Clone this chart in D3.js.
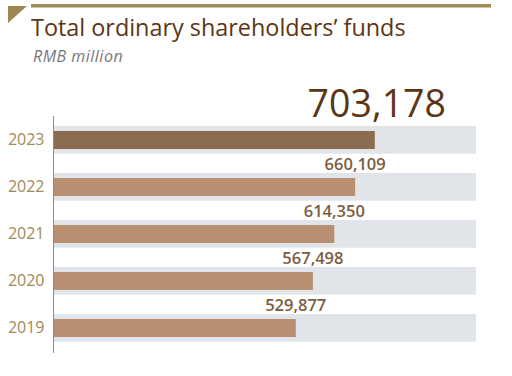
<!DOCTYPE html>
<html>
<head>
<meta charset="utf-8">
<script src="https://cdn.jsdelivr.net/npm/d3@7"></script>
<style>
  html, body { margin: 0; padding: 0; background: #fff; }
  svg { display: block; font-family: "Open Sans", "Noto Sans", sans-serif; }
</style>
</head>
<body>
<script>
const years = ['2023', '2022', '2021', '2020', '2019'];
const values = [703178, 660109, 614350, 567498, 529877];
const valueLabels = ['703,178', '660,109', '614,350', '567,498', '529,877'];
const title = 'Total ordinary shareholders\u2019 funds';
const subtitle = 'RMB million';

const width = 512,
      height = 376;

const dataset = years.map((year, i) => ({ year: year, value: values[i], label: valueLabels[i] }));

const svg = d3.select('body')
              .append('svg')
              .attr('width', width)
              .attr('height', height);

// header: corner triangle, rule, title, unit
svg.append('path')
   .attr('d', 'M8,6 L27,6 L8,23 Z')
   .attr('fill', '#9d8751');

svg.append('rect')
   .attr('x', 31)
   .attr('y', 4)
   .attr('width', 460)
   .attr('height', 3.5)
   .attr('fill', '#a08a55');

svg.append('text')
   .attr('x', 31)
   .attr('y', 35.5)
   .attr('font-size', 23.4)
   .attr('fill', '#5c3514')
   .text(title);

svg.append('text')
   .attr('x', 33)
   .attr('y', 62)
   .attr('font-size', 16)
   .attr('font-style', 'italic')
   .attr('letter-spacing', 0.5)
   .attr('fill', '#77787b')
   .text(subtitle);

const xScale = d3.scaleLinear()
                 .domain([0, 925000])
                 .range([54, 476]);

const yScale = d3.scaleBand()
                 .domain(years)
                 .range([126, 341])
                 .paddingInner(20 / 47)
                 .paddingOuter(0);

// grey tracks
svg.selectAll('rect.track')
   .data(dataset)
   .enter()
   .append('rect')
   .attr('class', 'track')
   .attr('x', xScale(0))
   .attr('y', (d) => yScale(d.year))
   .attr('width', xScale.range()[1] - xScale(0))
   .attr('height', yScale.bandwidth() + 0.7)
   .attr('fill', '#e1e5e9');

// bars
svg.selectAll('rect.bar')
   .data(dataset)
   .enter()
   .append('rect')
   .attr('class', 'bar')
   .attr('x', xScale(0))
   .attr('y', (d) => yScale(d.year) + 5)
   .attr('width', (d) => xScale(d.value) - xScale(0))
   .attr('height', 18)
   .attr('fill', (d, i) => i === 0 ? '#8b6c50' : '#b98f71');

// value labels, centred on the bar end
svg.selectAll('text.value')
   .data(dataset)
   .enter()
   .append('text')
   .attr('class', 'value')
   .attr('x', (d) => xScale(d.value) + (d.year === '2023' ? 2 : 0))
   .attr('y', (d) => yScale(d.year) - (d.year === '2023' ? 9 : 3))
   .attr('text-anchor', 'middle')
   .attr('font-size', (d) => d.year === '2023' ? 37.5 : 16.5)
   .attr('font-weight', (d) => d.year === '2023' ? 400 : 600)
   .attr('fill', (d) => d.year === '2023' ? '#5c3514' : '#7d5c3e')
   .text((d) => d.label);

// year axis
const yAxis = d3.axisLeft(yScale).tickSize(0).tickPadding(9);

const axisG = svg.append('g')
                 .attr('transform', 'translate(53.5, 0)')
                 .call(yAxis);

axisG.select('.domain').remove();
axisG.attr('font-size', 16)
     .attr('font-family', '"Open Sans", "Noto Sans", sans-serif');
axisG.selectAll('text')
     .attr('font-size', 16)
     .attr('fill', '#a08a55');

svg.append('line')
   .attr('x1', 53.5)
   .attr('x2', 53.5)
   .attr('y1', 116)
   .attr('y2', 353)
   .attr('stroke', '#a08a55')
   .attr('stroke-width', 1);
</script>
</body>
</html>
